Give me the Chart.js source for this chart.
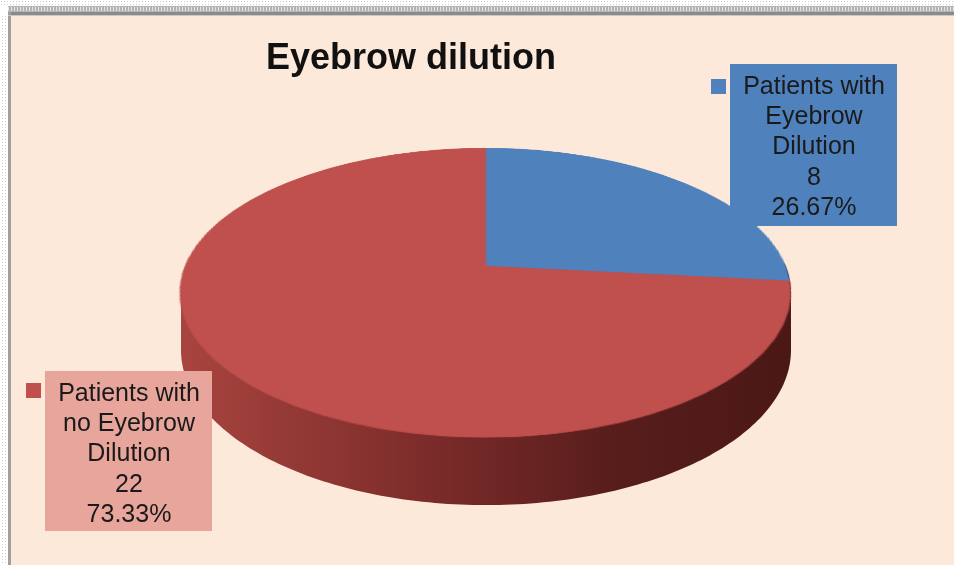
<!DOCTYPE html>
<html>
<head>
<meta charset="utf-8">
<script src="https://cdn.jsdelivr.net/npm/chart.js@4.4.1/dist/chart.umd.min.js"></script>
<style>
  html, body { margin: 0; padding: 0; background: #fde9da; }
  canvas { display: block; }
</style>
</head>
<body>
<canvas id="grafico" width="954" height="565"></canvas>
<script>
/** 1. DATA **/
const categories = ['Patients with Eyebrow Dilution', 'Patients with no Eyebrow Dilution'];
const categoryLines = [['Patients with', 'Eyebrow', 'Dilution'], ['Patients with', 'no Eyebrow', 'Dilution']];
const patients = [8, 22];
const sliceColors = ['#4f81bd', '#c0504d'];
const labelBoxColors = ['#4f81bd', '#e8a59b'];
const chartTitle = 'Eyebrow dilution';

const FONT = '"Liberation Sans", Arial, sans-serif';

// perspective of the 3d pie (circle of radius 1 seen from above and in front)
const view = { cx: 486, a: -495, b: 4148, D: 5.45, F: 1634, depth: 55.5 };

function project(u, v, h) {
    const k = view.D + v;
    return { x: view.cx + view.F * u / k, y: view.a + (view.b + h * view.D) / k };
}

function hull(pts) {
    pts = pts.slice().sort((p, q) => p.x - q.x || p.y - q.y);
    const cross = (o, a, b) => (a.x - o.x) * (b.y - o.y) - (a.y - o.y) * (b.x - o.x);
    const lower = [], upper = [];
    for (const p of pts) {
        while (lower.length >= 2 && cross(lower[lower.length - 2], lower[lower.length - 1], p) <= 0) lower.pop();
        lower.push(p);
    }
    for (let i = pts.length - 1; i >= 0; i--) {
        const p = pts[i];
        while (upper.length >= 2 && cross(upper[upper.length - 2], upper[upper.length - 1], p) <= 0) upper.pop();
        upper.push(p);
    }
    return lower.slice(0, -1).concat(upper.slice(0, -1));
}

/** 2. 3D PIE: side wall + warped top face **/
const pie3d = {
    id: 'pie3d',
    afterDatasetsDraw(chart) {
        const ctx = chart.ctx;
        const arc = chart.getDatasetMeta(0).data[0];
        const R = arc.outerRadius;
        const w = Math.ceil(2 * R) + 6;
        const ox = Math.round(arc.x - w / 2), oy = Math.round(arc.y - w / 2);

        // take the flat pie drawn by Chart.js
        const off = document.createElement('canvas');
        off.width = w; off.height = w;
        off.getContext('2d').drawImage(chart.canvas, ox, oy, w, w, 0, 0, w, w);
        ctx.clearRect(ox, oy, w, w);

        // side wall (front half only, so no dark rim shows behind the top)
        const pts = [];
        for (let i = 0; i <= 360; i++) {
            const t = i * Math.PI / 180;
            const u = Math.sin(t), v = Math.cos(t);
            if (v <= 0.02) pts.push(project(u, v, 0));
            pts.push(project(u, v, view.depth));
        }
        const h = hull(pts);
        const grad = ctx.createLinearGradient(view.cx - 305, 0, view.cx + 305, 0);
        grad.addColorStop(0, '#a8443f');
        grad.addColorStop(0.4, '#7c2c2a');
        grad.addColorStop(0.72, '#561d1b');
        grad.addColorStop(1, '#4b1816');
        ctx.save();
        ctx.beginPath();
        h.forEach((p, i) => i ? ctx.lineTo(p.x, p.y) : ctx.moveTo(p.x, p.y));
        ctx.closePath();
        ctx.fillStyle = grad;
        ctx.fill();

        // top face, row by row
        ctx.imageSmoothingEnabled = true;
        const yTop = project(0, 1, 0).y, yBot = project(0, -1, 0).y;
        for (let yd = Math.floor(yTop); yd < Math.ceil(yBot); yd++) {
            const v0 = view.b / (yd - view.a) - view.D;
            const v1 = view.b / (yd + 1 - view.a) - view.D;
            const s0 = Math.min(Math.max(arc.y - v0 * R - oy, 0), w);
            const s1 = Math.min(Math.max(arc.y - v1 * R - oy, 0), w);
            if (s1 - s0 <= 0.01) continue;
            const sc = view.F / ((view.D + (v0 + v1) / 2) * R);
            ctx.drawImage(off, 0, s0, w, s1 - s0, view.cx - (w / 2) * sc, yd, w * sc, 1);
        }
        ctx.restore();
    },
    afterDraw(chart) {
        const ctx = chart.ctx;
        ctx.save();
        drawFrame(ctx);

        // title
        ctx.fillStyle = '#111';
        ctx.font = 'bold 36px ' + FONT;
        ctx.textAlign = 'center';
        ctx.textBaseline = 'alphabetic';
        ctx.fillText(chartTitle, 411, 69);

        // data labels with legend key
        const total = patients.reduce((s, x) => s + x, 0);
        const boxes = [
            { x: 730, y: 64, w: 167, h: 162, key: [711, 79], tx: 814, ty: 87 },
            { x: 45, y: 371, w: 167, h: 160, key: [26, 383], tx: 129, ty: 394 }
        ];
        boxes.forEach((b, i) => {
            ctx.fillStyle = labelBoxColors[i];
            ctx.fillRect(b.x, b.y, b.w, b.h);
            ctx.fillStyle = sliceColors[i];
            ctx.fillRect(b.key[0], b.key[1], 15, 15);
            const lines = categoryLines[i].concat([String(patients[i]), (patients[i] / total * 100).toFixed(2) + '%']);
            ctx.fillStyle = '#1a1a1a';
            ctx.font = '25px ' + FONT;
            ctx.textBaseline = 'middle';
            lines.forEach((t, j) => ctx.fillText(t, b.tx, b.ty + j * 30.3));
        });
        ctx.restore();
    }
};

function drawFrame(ctx) {
    ctx.fillStyle = '#ffffff';
    ctx.fillRect(0, 0, 954, 15);
    ctx.fillRect(0, 0, 8, 565);
    ctx.fillStyle = '#d0d0d0';
    for (let x = 1; x < 954; x += 3) for (let y = 1; y < 5; y += 3) ctx.fillRect(x, y, 1, 1);
    for (let y = 16; y < 565; y += 3) { ctx.fillRect(2, y, 1, 1); ctx.fillRect(5, y, 1, 1); }
    ctx.fillStyle = '#b4b4b4';
    ctx.fillRect(8, 6, 946, 6);
    ctx.fillStyle = '#e6e6e6';
    for (let x = 8; x < 954; x += 3) ctx.fillRect(x, 7, 1, 4);
    ctx.fillStyle = '#8a8a8a';
    ctx.fillRect(8, 12, 946, 3);
    ctx.fillStyle = '#a0a0a0';
    ctx.fillRect(8, 12, 3, 553);
    ctx.fillStyle = '#c8c8c8';
    ctx.fillRect(8, 15, 946, 1);
}

/** 3. CHART **/
new Chart(document.getElementById('grafico'), {
    type: 'pie',
    data: {
        labels: categories,
        datasets: [{ data: patients, backgroundColor: sliceColors, borderColor: sliceColors, borderWidth: 1 }]
    },
    options: {
        responsive: false,
        animation: false,
        devicePixelRatio: 1,
        layout: { padding: { top: 80, bottom: 80, left: 280, right: 280 } },
        plugins: { legend: { display: false }, tooltip: { enabled: false }, title: { display: false } }
    },
    plugins: [pie3d]
});
</script>
</body>
</html>
